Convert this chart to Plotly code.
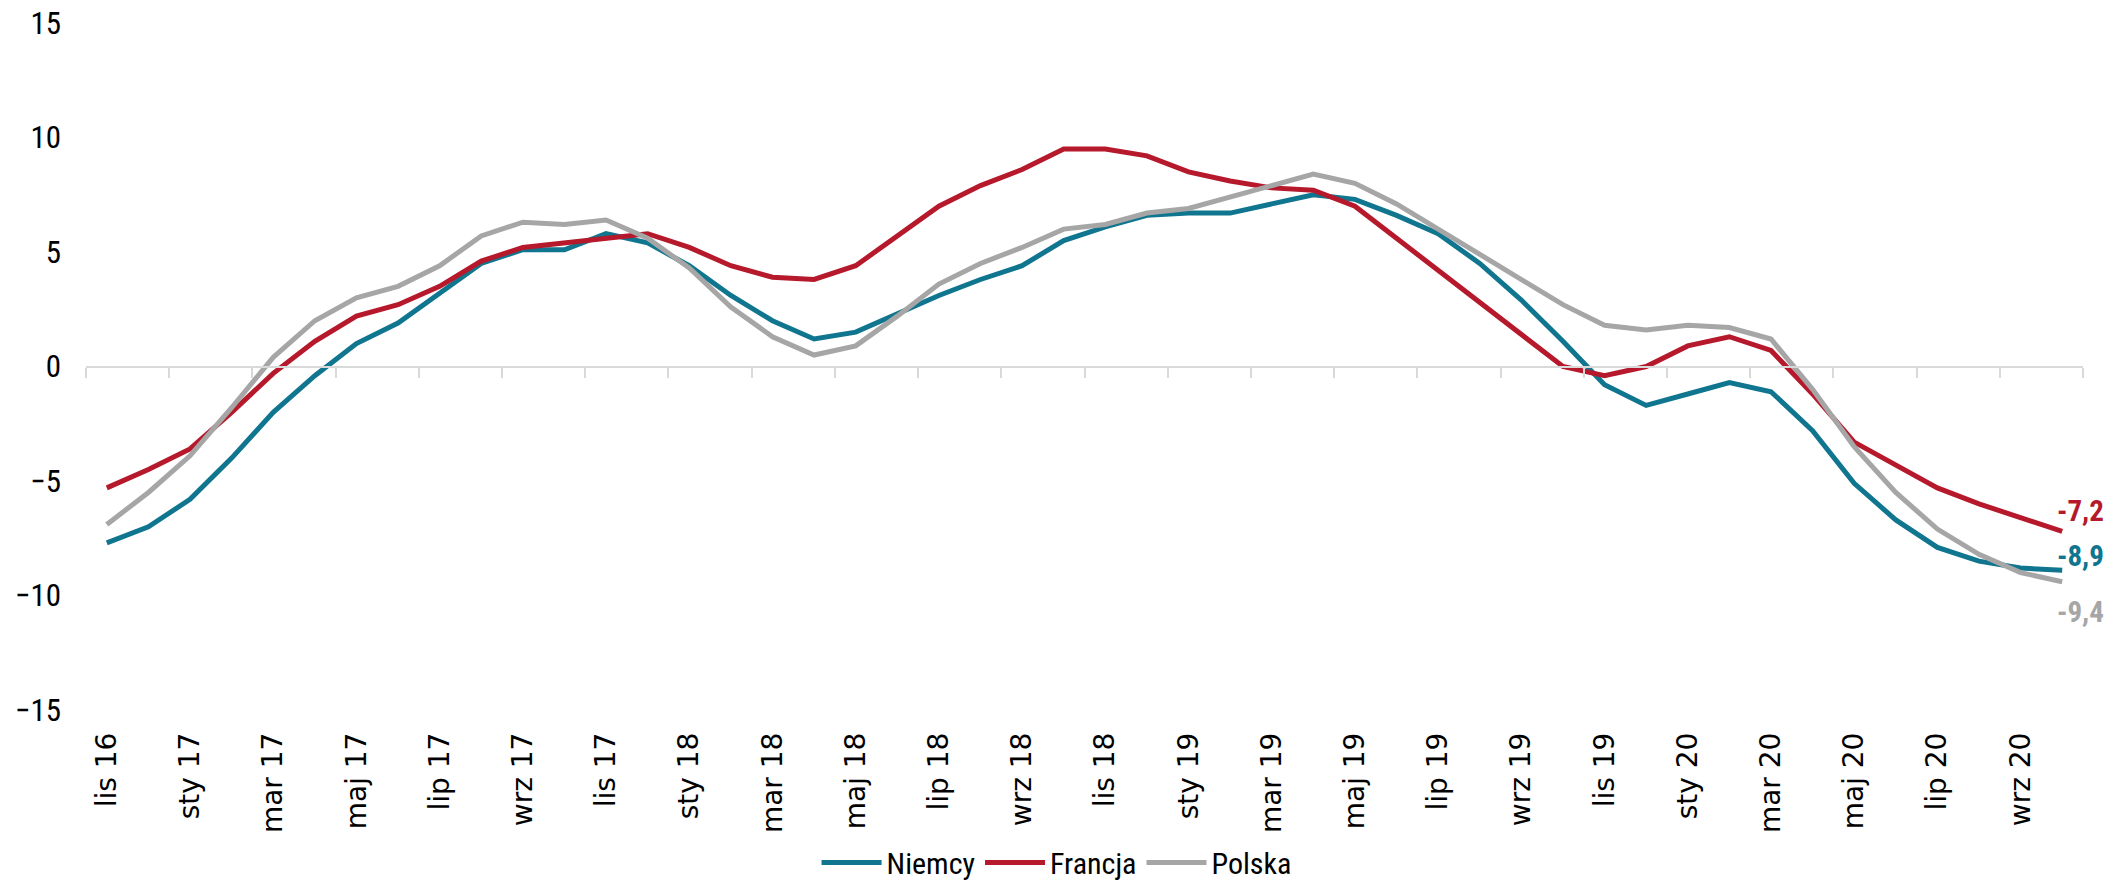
import plotly.graph_objects as go

# monthly series, lis 16 .. paź 20
months = [
    "lis 16", "gru 16",
    "sty 17", "lut 17", "mar 17", "kwi 17", "maj 17", "cze 17",
    "lip 17", "sie 17", "wrz 17", "paź 17", "lis 17", "gru 17",
    "sty 18", "lut 18", "mar 18", "kwi 18", "maj 18", "cze 18",
    "lip 18", "sie 18", "wrz 18", "paź 18", "lis 18", "gru 18",
    "sty 19", "lut 19", "mar 19", "kwi 19", "maj 19", "cze 19",
    "lip 19", "sie 19", "wrz 19", "paź 19", "lis 19", "gru 19",
    "sty 20", "lut 20", "mar 20", "kwi 20", "maj 20", "cze 20",
    "lip 20", "sie 20", "wrz 20", "paź 20",
]

niemcy = [-7.7, -7.0, -5.8, -4.0, -2.0, -0.4, 1.0, 1.9, 3.2, 4.5, 5.1, 5.1, 5.8,
          5.4, 4.4, 3.1, 2.0, 1.2, 1.5, 2.3, 3.1, 3.8, 4.4, 5.5,
          6.1, 6.6, 6.7, 6.7, 7.1, 7.5, 7.3, 6.6, 5.8, 4.5, 2.9, 1.1,
          -0.8, -1.7, -1.2, -0.7, -1.1, -2.8, -5.1, -6.7, -7.9, -8.5, -8.8, -8.9]

francja = [-5.3, -4.5, -3.6, -2.0, -0.3, 1.1, 2.2, 2.7, 3.5, 4.6, 5.2, 5.4, 5.6,
           5.8, 5.2, 4.4, 3.9, 3.8, 4.4, 5.7, 7.0, 7.9, 8.6, 9.5,
           9.5, 9.2, 8.5, 8.1, 7.8, 7.7, 7.0, 5.6, 4.2, 2.8, 1.4, 0.0,
           -0.4, 0.0, 0.9, 1.3, 0.7, -1.2, -3.3, -4.3, -5.3, -6.0, -6.6, -7.2]

polska = [-6.9, -5.5, -3.9, -1.8, 0.4, 2.0, 3.0, 3.5, 4.4, 5.7, 6.3, 6.2, 6.4,
          5.6, 4.3, 2.6, 1.3, 0.5, 0.9, 2.2, 3.6, 4.5, 5.2, 6.0,
          6.2, 6.7, 6.9, 7.4, 7.9, 8.4, 8.0, 7.1, 6.0, 4.9, 3.8, 2.7,
          1.8, 1.6, 1.8, 1.7, 1.2, -1.0, -3.5, -5.5, -7.1, -8.2, -9.0, -9.4]

series = [
    ("Niemcy", niemcy, "#10758f", 14),
    ("Francja", francja, "#b5192b", 20),
    ("Polska", polska, "#a6a6a6", -30),
]

NARROW = "Liberation Sans Narrow, Roboto Condensed, Arial Narrow, sans-serif"

idx = list(range(len(months)))
n = len(months)

fig = go.Figure()
for name, vals, color, _ in series:
    fig.add_trace(go.Scatter(x=idx, y=vals, name=name, mode="lines",
                             line=dict(color=color, width=5)))

# helper trace so the zero-axis overlay gets drawn
fig.add_trace(go.Scatter(x=[idx[0]], y=[0], xaxis="x2", mode="none",
                         showlegend=False, hoverinfo="skip"))

for name, vals, color, yshift in series:
    fig.add_annotation(x=idx[-1], y=vals[-1], text=f"{vals[-1]:.1f}".replace(".", ","),
                       showarrow=False, xshift=18, yshift=yshift,
                       font=dict(family=NARROW, size=29, color=color, weight="bold"))

fig.update_layout(
    width=2109, height=883,
    template="plotly_white",
    plot_bgcolor="white", paper_bgcolor="white",
    margin=dict(l=86, r=26, t=23, b=173, autoexpand=False),
    font=dict(family=NARROW, color="#000000"),
    showlegend=True,
    legend=dict(orientation="h", x=0.486, xanchor="center", y=-0.222, yanchor="middle",
                font=dict(family=NARROW, size=30), itemwidth=60, traceorder="normal"),
    xaxis=dict(
        range=[-0.5, n - 0.5],
        tickvals=idx[::2], ticktext=months[::2],
        tickangle=-90, ticks="", showline=False, showgrid=False, zeroline=False,
        tickfont=dict(family="DejaVu Sans", size=28, color="#000000"),
        ticklabelstandoff=16, automargin=False,
    ),
    xaxis2=dict(
        overlaying="x", anchor="free", position=0.5,
        range=[-0.5, n - 0.5],
        tickvals=[i - 0.5 for i in range(0, n + 1, 2)],
        showticklabels=False, ticks="outside", ticklen=10, tickwidth=2,
        tickcolor="#d9d9d9", showline=True, linecolor="#d9d9d9", linewidth=2,
        showgrid=False, zeroline=False,
    ),
    yaxis=dict(
        range=[-15, 15], dtick=5, showgrid=False, zeroline=False, showline=False,
        tickfont=dict(family=NARROW, size=31, color="#000000"),
        ticklabelstandoff=24, automargin=False,
    ),
)

fig.write_html("out.html", config={"displayModeBar": False},
               post_script="document.body.style.margin='0';")
